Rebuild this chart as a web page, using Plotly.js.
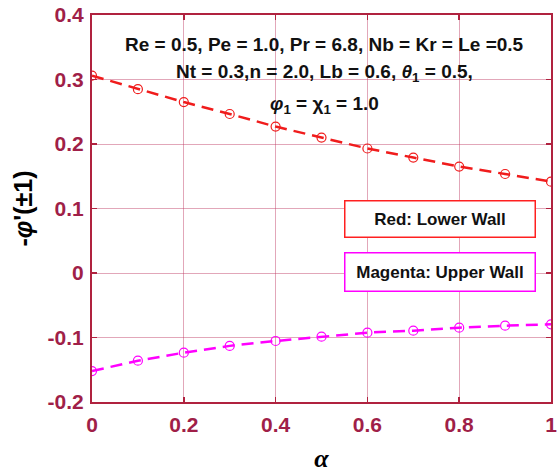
<!DOCTYPE html>
<html>
<head>
<meta charset="utf-8">
<script src="https://cdn.plot.ly/plotly-3.0.1.min.js"></script>
<style>html,body{margin:0;padding:0;background:#fff;}#chart{width:557px;height:473px;}</style>
</head>
<body>
<div id="chart"></div>
<script>
const alpha = [0, 0.1, 0.2, 0.3, 0.4, 0.5, 0.6, 0.7, 0.8, 0.9, 1.0];
const lowerWall = [0.306, 0.285, 0.265, 0.2465, 0.227, 0.210, 0.193, 0.179, 0.165, 0.1535, 0.1416];
const upperWall = [-0.152, -0.136, -0.1235, -0.113, -0.1054, -0.0987, -0.0925, -0.0894, -0.0848, -0.0817, -0.0796];
const xTicks = [0, 0.2, 0.4, 0.6, 0.8, 1];
const xTickText = ['0', '0.2', '0.4', '0.6', '0.8', '1'];
const yTicks = [-0.2, -0.1, 0, 0.1, 0.2, 0.3, 0.4];
const yTickText = ['-0.2', '-0.1', '0', '0.1', '0.2', '0.3', '0.4'];

const tickColor = '#a01f48';
const axisColor = '#b0223f';
const gridColor = 'rgba(190,60,100,0.45)';
const fontFam = 'Liberation Sans, Arial, sans-serif';

const traces = [
  {x: alpha, y: lowerWall, mode: 'lines+markers', name: 'Lower Wall',
   line: {color: '#f01c1c', width: 2.5, dash: '12px,7px'},
   marker: {symbol: 'circle-open', size: 9, color: '#f01c1c', line: {width: 1.2}}},
  {x: alpha, y: upperWall, mode: 'lines+markers', name: 'Upper Wall',
   line: {color: '#ff00ff', width: 2.5, dash: '12px,7px'},
   marker: {symbol: 'circle-open', size: 9, color: '#ff00ff', line: {width: 1.2}}}
];

const axisCommon = {
  showline: true, linecolor: axisColor, linewidth: 2, mirror: 'ticks',
  ticks: 'inside', ticklen: 5, tickcolor: axisColor, tickwidth: 1.5,
  showgrid: true, gridcolor: gridColor, gridwidth: 1, zeroline: false,
  ticklabeloverflow: 'allow',
  tickfont: {family: fontFam, size: 21, color: tickColor, weight: 'bold'}
};

const layout = {
  width: 557, height: 473,
  margin: {l: 92, r: 6, t: 15, b: 71},
  paper_bgcolor: '#fff', plot_bgcolor: '#fff',
  showlegend: false,
  xaxis: Object.assign({}, axisCommon, {
    range: [0, 1], tickmode: 'array', tickvals: xTicks, ticktext: xTickText,
    ticklabelstandoff: 3,
    title: {text: 'α', font: {family: 'Liberation Serif, Times New Roman, serif', size: 26, color: '#000', style: 'italic', weight: 'bold'}, standoff: 16}
  }),
  yaxis: Object.assign({}, axisCommon, {
    range: [-0.2, 0.4], tickmode: 'array', tickvals: yTicks, ticktext: yTickText,
    ticklabelstandoff: 2,
    title: {text: "-<i>φ</i>'(±1)", font: {family: fontFam, size: 25, color: '#000', weight: 'bold'}, standoff: 8}
  }),
  annotations: [
    {xref: 'paper', yref: 'paper', x: 0.507, y: 0.956, showarrow: false,
     text: 'Re = 0.5, Pe = 1.0, Pr = 6.8, Nb = Kr = Le =0.5',
     font: {family: fontFam, size: 19, color: '#111', weight: 'bold'}},
    {xref: 'paper', yref: 'paper', x: 0.507, y: 0.886, showarrow: false,
     text: 'Nt = 0.3,n = 2.0, Lb = 0.6, <i>θ</i><sub>1</sub> = 0.5,',
     font: {family: fontFam, size: 19, color: '#111', weight: 'bold'}},
    {xref: 'paper', yref: 'paper', x: 0.507, y: 0.804, showarrow: false,
     text: '<i>φ</i><sub>1</sub> = χ<sub>1</sub> = 1.0',
     font: {family: fontFam, size: 19, color: '#111', weight: 'bold'}},
    {xref: 'x', yref: 'y', x: 0.759, y: 0.0845, showarrow: false,
     text: 'Red: Lower Wall', width: 185, height: 31, borderpad: 2,
     bordercolor: '#ff2020', borderwidth: 1.5, bgcolor: '#fff',
     font: {family: fontFam, size: 17, color: '#111', weight: 'bold'}},
    {xref: 'x', yref: 'y', x: 0.759, y: 0.0008, showarrow: false,
     text: 'Magenta: Upper Wall', width: 185, height: 33, borderpad: 2,
     bordercolor: '#ff00ff', borderwidth: 1.5, bgcolor: '#fff',
     font: {family: fontFam, size: 17, color: '#111', weight: 'bold'}}
  ]
};

Plotly.newPlot('chart', traces, layout, {displayModeBar: false, staticPlot: true});
</script>
</body>
</html>
